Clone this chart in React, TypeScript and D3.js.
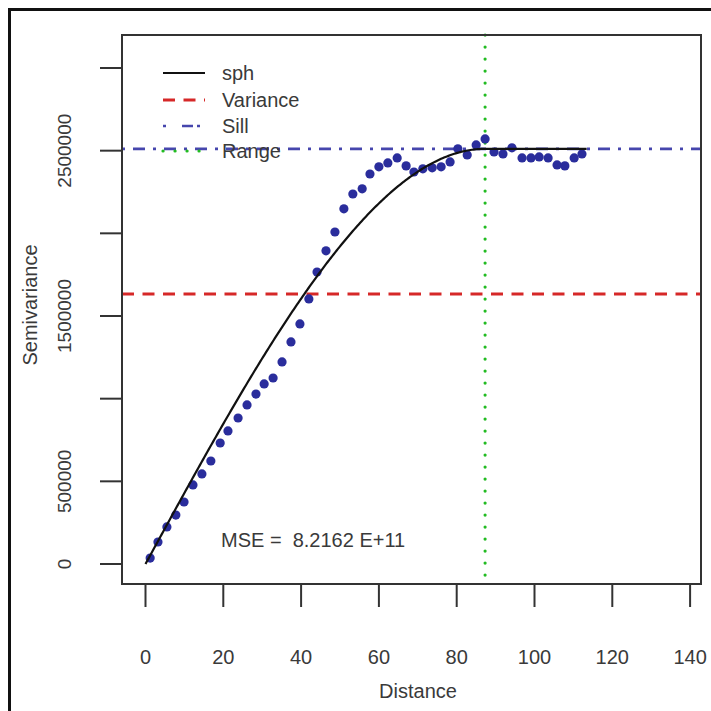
import React from "react";
import * as d3 from "d3";

// ---- data ----
const distances = [
  1.2, 3.2, 5.5, 7.8, 9.9, 12.2, 14.5, 16.8, 19.2, 21.2,
  23.8, 26.1, 28.4, 30.5, 32.8, 35.1, 37.4, 39.7, 42.0, 44.1,
  46.4, 48.7, 51.0, 53.3, 55.7, 57.7, 60.0, 62.3, 64.7, 67.0,
  69.0, 71.3, 73.7, 76.0, 78.3, 80.3, 82.7, 85.0, 87.3, 89.6,
  91.9, 94.2, 96.8, 99.1, 101.2, 103.5, 105.8, 107.8, 110.2, 112.2,
];
const semivariance = [
  36000, 133000, 224000, 296000, 375000, 478000, 545000, 623000, 732000, 805000,
  883000, 962000, 1028000, 1089000, 1125000, 1222000, 1343000, 1452000, 1603000, 1766000,
  1894000, 2008000, 2148000, 2238000, 2269000, 2359000, 2402000, 2426000, 2456000, 2408000,
  2371000, 2390000, 2396000, 2402000, 2432000, 2511000, 2474000, 2535000, 2571000, 2492000,
  2480000, 2517000, 2456000, 2456000, 2462000, 2456000, 2414000, 2408000, 2456000, 2480000,
];

// spherical model parameters (sph)
const modelNugget = 0;
const modelPartialSill = 2511000;
const modelRange = 87.3;
const modelMaxDist = 113.4;

const varianceValue = 1633000;
const sillValue = 2511000;
const rangeValue = 87.3;

const xTicks = [0, 20, 40, 60, 80, 100, 120, 140];
const yTicks = [0, 500000, 1000000, 1500000, 2000000, 2500000, 3000000];
const yTickLabels = ["0", "500000", "", "1500000", "", "2500000", ""];

const legendLabels = ["sph", "Variance", "Sill", "Range"];
const mseText = "MSE =\u00a0\u00a08.2162 E+11";
const xTitle = "Distance";
const yTitle = "Semivariance";

const FONT = "'Liberation Sans', Arial, Helvetica, sans-serif";
const TEXT = "#3a3a3a";
const AXIS = "#333";
const PT = "#2a2d9c";
const RED = "#d62828";
const BLUE = "#4646ad";
const GREEN = "#22bb22";

export default function App() {
  const box = { left: 122, right: 701, top: 35, bottom: 584 };
  const x = d3.scaleLinear().domain([0, 140]).range([145.5, 690.1]);
  const y = d3.scaleLinear().domain([0, 3000000]).range([564, 68]);

  const sph = (h: number) => {
    if (h <= 0) return modelNugget;
    if (h >= modelRange) return modelNugget + modelPartialSill;
    const r = h / modelRange;
    return modelNugget + modelPartialSill * (1.5 * r - 0.5 * r * r * r);
  };
  const hs = d3.range(0, modelMaxDist + 0.001, modelMaxDist / 300);
  const curve = d3
    .line<number>()
    .x((h) => x(h))
    .y((h) => y(sph(h)))(hs) as string;

  const legendY = [73, 100, 126, 151];
  const legX0 = 163;
  const legX1 = 205;
  const legTextX = 222;

  return (
    <svg
      width={711}
      height={711}
      style={{ position: "fixed", left: 0, top: 0, background: "#fff" }}
      fontFamily={FONT}
    >
      <rect x={0} y={0} width={711} height={711} fill="#fff" />
      {/* outer frame */}
      <rect x={9.5} y={9.5} width={800} height={800} fill="none" stroke="#111" strokeWidth={3} />

      {/* reference lines */}
      <line x1={box.left} x2={box.right} y1={y(varianceValue)} y2={y(varianceValue)}
        stroke={RED} strokeWidth={3} strokeDasharray="12,8.5" />
      <line x1={box.left} x2={box.right} y1={y(sillValue)} y2={y(sillValue)}
        stroke={BLUE} strokeWidth={2.6} strokeDasharray="3,8,12,8" />
      <line x1={x(rangeValue)} x2={x(rangeValue)} y1={box.top} y2={box.bottom}
        stroke={GREEN} strokeWidth={3.2} strokeDasharray="0.1,11.9" strokeLinecap="round" />

      {/* points */}
      {distances.map((d, i) => (
        <circle key={i} cx={x(d)} cy={y(semivariance[i])} r={4.6} fill={PT} />
      ))}

      {/* model curve */}
      <path d={curve} fill="none" stroke="#111" strokeWidth={2.2} />

      {/* box */}
      <rect x={box.left} y={box.top} width={box.right - box.left} height={box.bottom - box.top}
        fill="none" stroke={AXIS} strokeWidth={2} />

      {/* x axis */}
      {xTicks.map((t) => (
        <g key={t}>
          <line x1={x(t)} x2={x(t)} y1={box.bottom} y2={607} stroke={AXIS} strokeWidth={2} />
          <text x={x(t)} y={664} fontSize={20} fill={TEXT} textAnchor="middle">{t}</text>
        </g>
      ))}
      <text x={418} y={698} fontSize={20} fill={TEXT} textAnchor="middle">{xTitle}</text>

      {/* y axis */}
      {yTicks.map((t, i) => (
        <g key={t}>
          <line x1={100} x2={box.left} y1={y(t)} y2={y(t)} stroke={AXIS} strokeWidth={2} />
          {yTickLabels[i] && (
            <text
              transform={`translate(71,${y(t)}) rotate(-90)`}
              fontSize={19}
              fill={TEXT}
              textAnchor="middle"
            >
              {yTickLabels[i]}
            </text>
          )}
        </g>
      ))}
      <text transform={`translate(37,305) rotate(-90)`} fontSize={20} fill={TEXT} textAnchor="middle">
        {yTitle}
      </text>

      {/* legend */}
      <line x1={legX0} x2={legX1} y1={legendY[0]} y2={legendY[0]} stroke="#111" strokeWidth={2.2} />
      <line x1={legX0} x2={legX1} y1={legendY[1]} y2={legendY[1]} stroke={RED} strokeWidth={3} strokeDasharray="12,8.5" />
      <line x1={legX0} x2={legX1} y1={legendY[2]} y2={legendY[2]} stroke={BLUE} strokeWidth={2.6} strokeDasharray="3,16,11,4,3,30" />
      <line x1={legX0} x2={legX1} y1={legendY[3]} y2={legendY[3]} stroke={GREEN} strokeWidth={3.2} strokeDasharray="0.1,11.9" strokeLinecap="round" />
      {legendLabels.map((l, i) => (
        <text key={l} x={legTextX} y={legendY[i] + 7} fontSize={20} fill={TEXT}>{l}</text>
      ))}

      {/* MSE */}
      <text x={221} y={547} fontSize={20} fill={TEXT}>{mseText}</text>
    </svg>
  );
}
